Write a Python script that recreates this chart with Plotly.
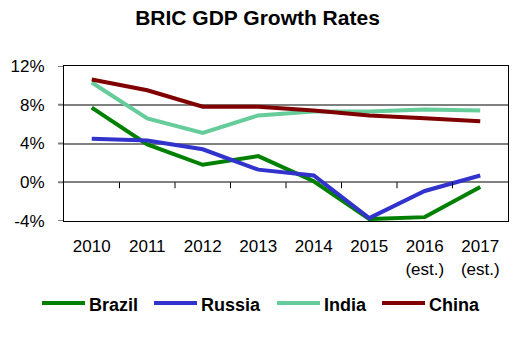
import plotly.graph_objects as go

years = ["2010", "2011", "2012", "2013", "2014", "2015", "2016<br>(est.)", "2017<br>(est.)"]
brazil = [7.7, 3.9, 1.8, 2.7, 0.1, -3.8, -3.6, -0.5]
russia = [4.5, 4.3, 3.4, 1.3, 0.7, -3.7, -0.9, 0.7]
india = [10.3, 6.6, 5.1, 6.9, 7.3, 7.3, 7.5, 7.4]
china = [10.6, 9.5, 7.8, 7.8, 7.4, 6.9, 6.6, 6.3]
y_ticks = [-4, 0, 4, 8, 12]

series = [("Brazil", brazil, "#008000"), ("Russia", russia, "#3232CC"),
          ("India", india, "#66CC99"), ("China", china, "#800000")]

W, H = 515, 338
L, R, T, B = 64, 7, 66, 117
PW, PH = W - L - R, H - T - B

xs = list(range(len(years)))
fig = go.Figure()
for name, vals, col in series:
    fig.add_trace(go.Scatter(x=xs, y=vals, name=name, mode="lines",
                             line=dict(color=col, width=4), showlegend=False))

# tick marks on the 0% line at category boundaries
for b in range(1, len(years)):
    fig.add_shape(type="line", xref="x", yref="y", x0=b - 0.5, x1=b - 0.5,
                  ysizemode="pixel", yanchor=0, y0=0, y1=-6,
                  line=dict(color="black", width=1))
# small gray stubs left of the y axis
for v in y_ticks:
    fig.add_shape(type="line", xref="x domain", yref="y", xsizemode="pixel",
                  xanchor=0, x0=-6, x1=0, y0=v, y1=v,
                  line=dict(color="#808080", width=2), layer="below")

# custom legend (line sample 42px, bold label)
leg_line_x = [42, 154, 277, 382]
leg_y = 303
for (name, vals, col), lx in zip(series, leg_line_x):
    fig.add_shape(type="line", xref="paper", yref="paper",
                  x0=(lx - L) / PW, x1=(lx + 43 - L) / PW,
                  y0=(H - B - leg_y) / PH, y1=(H - B - leg_y) / PH,
                  line=dict(color=col, width=4))
    fig.add_annotation(xref="paper", yref="paper", x=(lx + 45 - L) / PW,
                       y=(H - B - 305) / PH, xanchor="left", yanchor="middle",
                       text=f"<b>{name}</b>", showarrow=False,
                       font=dict(size=18, color="black"))

font = "Liberation Sans, Arial, sans-serif"
fig.update_layout(
    width=W, height=H,
    margin=dict(l=L, r=R, t=T, b=B),
    paper_bgcolor="white", plot_bgcolor="white",
    font=dict(family=font, size=17, color="black"),
    title=dict(text="<b>BRIC GDP Growth Rates</b>", x=0.5, xanchor="center",
               y=1 - 18 / H, yanchor="middle", font=dict(size=21)),
    xaxis=dict(range=[-0.5, len(years) - 0.5], tickvals=xs, ticktext=years,
               showgrid=False, zeroline=False, showline=True, mirror=True,
               linecolor="black", linewidth=1, ticks="outside", ticklen=10,
               tickcolor="rgba(0,0,0,0)", tickfont=dict(size=17)),
    yaxis=dict(range=[-4, 12], tickvals=y_ticks,
               ticktext=[f"{v}%" for v in y_ticks],
               showgrid=True, gridcolor="#808080", gridwidth=2,
               zeroline=True, zerolinecolor="#808080", zerolinewidth=2,
               showline=True, mirror=True, linecolor="black", linewidth=1,
               ticks="outside", ticklen=15, tickcolor="rgba(0,0,0,0)",
               tickfont=dict(size=17)),
    showlegend=False,
)
fig.write_html("out.html", config={"displayModeBar": False},
               post_script="document.body.style.margin='0';document.body.style.padding='0';")
